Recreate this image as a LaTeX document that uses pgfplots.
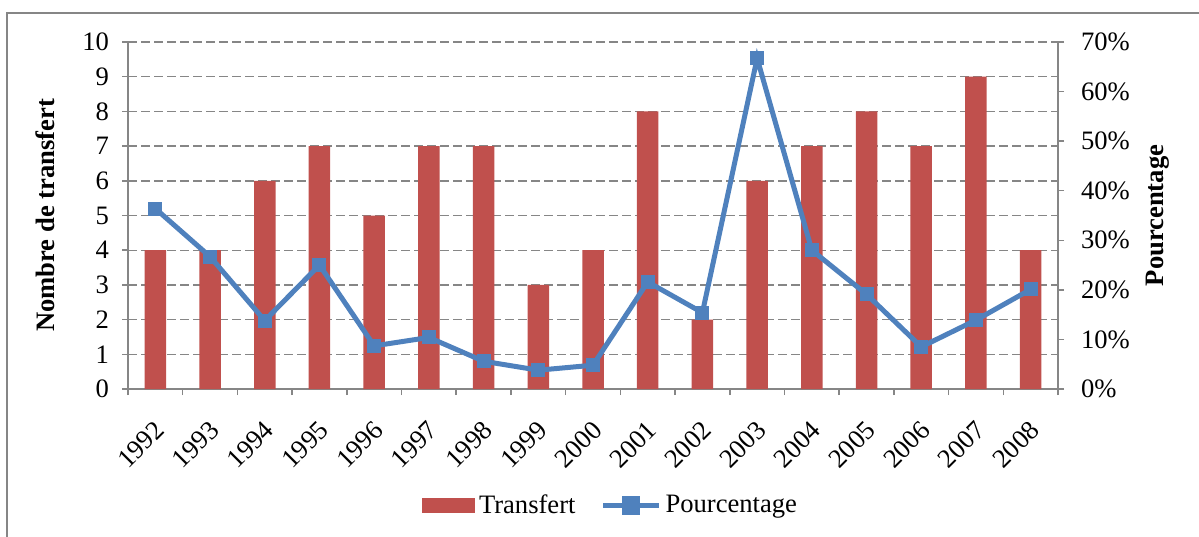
\documentclass[border=0pt]{standalone}
\usepackage{fontspec}
\setmainfont{Liberation Serif}
\usepackage{pgfplots}
\pgfplotsset{compat=1.18}

\definecolor{barred}{HTML}{C0504D}
\definecolor{lineblue}{HTML}{4F81BD}
\definecolor{axgray}{HTML}{868686}

\pgfplotstableread{
x  annee transfert pct
0  1992  4  36.4
1  1993  4  26.7
2  1994  6  13.8
3  1995  7  25.0
4  1996  5   8.7
5  1997  7  10.4
6  1998  7   5.6
7  1999  3   3.8
8  2000  4   4.8
9  2001  8  21.6
10 2002  2  15.4
11 2003  6  66.7
12 2004  7  28.0
13 2005  8  19.1
14 2006  7   8.5
15 2007  9  13.9
16 2008  4  20.1
}\donnees

\pgfplotsset{
  base/.style={
    at={(64pt,-194.5pt)}, anchor=south west,
    scale only axis, width=465pt, height=173.5pt,
    xmin=-0.5, xmax=16.5,
    font=\fontsize{13.3}{15.5}\selectfont,
    tick label style={font=\fontsize{13.3}{15.5}\selectfont},
    /pgf/number format/assume math mode=true,
    axis line style={draw=axgray, line width=0.75pt},
    tick align=outside,
    major tick length=3pt,
    minor tick length=3pt,
    tick style={draw=axgray, line width=0.75pt},
  },
}

\begin{document}
\begin{tikzpicture}
\useasboundingbox (0,0) rectangle (599.5pt,-268pt);
\draw[axgray, line width=0.75pt] (3.5pt,-6.5pt) rectangle (640pt,-300pt);

\begin{axis}[
  base,
  axis y line*=left, axis x line*=bottom,
  ymin=0, ymax=10, ytick={0,1,...,10},
  yticklabel style={xshift=-3pt},
  ymajorgrids,
  major grid style={draw=axgray, line width=0.7pt, dash pattern=on 4.5pt off 2pt},
  xtick={0,...,16},
  xticklabels={1992,1993,1994,1995,1996,1997,1998,1999,2000,2001,2002,2003,2004,2005,2006,2007,2008},
  minor xtick={-0.5,0.5,...,16.5},
  major x tick style={draw=none},
  xticklabel style={xshift=-1pt, rotate=45, anchor=north east, inner sep=0pt},
  xticklabel shift=12pt,
  ylabel={\textbf{Nombre de transfert}},
  ylabel style={at={(axis description cs:-0.0785,0.5)}, anchor=base, rotate=0},
]
\addplot[ybar, bar width=10.75pt, fill=barred, draw=none] table[x=x, y=transfert] {\donnees};
\end{axis}

\begin{axis}[
  base,
  axis y line*=right, axis x line=none,
  ymin=0, ymax=70, ytick={0,10,...,70},
  yticklabel={\pgfmathprintnumber{\tick}\%},
  yticklabel style={xshift=5pt},
  ylabel={\textbf{Pourcentage}},
  ylabel style={at={(axis description cs:1.113,0.5)}, anchor=base, rotate=0},
  legend style={at={(axis description cs:0.52,-0.336)}, anchor=center,
    draw=none, fill=none, legend columns=2,
    /tikz/every even column/.append style={column sep=10.5pt},
    font=\fontsize{13.3}{15.5}\selectfont},
]
\addlegendimage{legend image code/.code={\fill[barred] (0pt,-3.5pt) rectangle (26pt,3.5pt);}}
\addlegendentry{Transfert}
\addplot[color=lineblue, line width=2.5pt, mark=square*, mark size=3.25pt,
  mark options={fill=lineblue, draw=lineblue, line width=0.5pt},
  legend image code/.code={
    \draw[lineblue, line width=2.5pt] (0pt,0pt) -- (28pt,0pt);
    \fill[lineblue] (10.75pt,-3.5pt) rectangle (17.25pt,3.5pt);}]
  table[x=x, y=pct] {\donnees};
\addlegendentry{Pourcentage}
\end{axis}
\end{tikzpicture}
\end{document}
